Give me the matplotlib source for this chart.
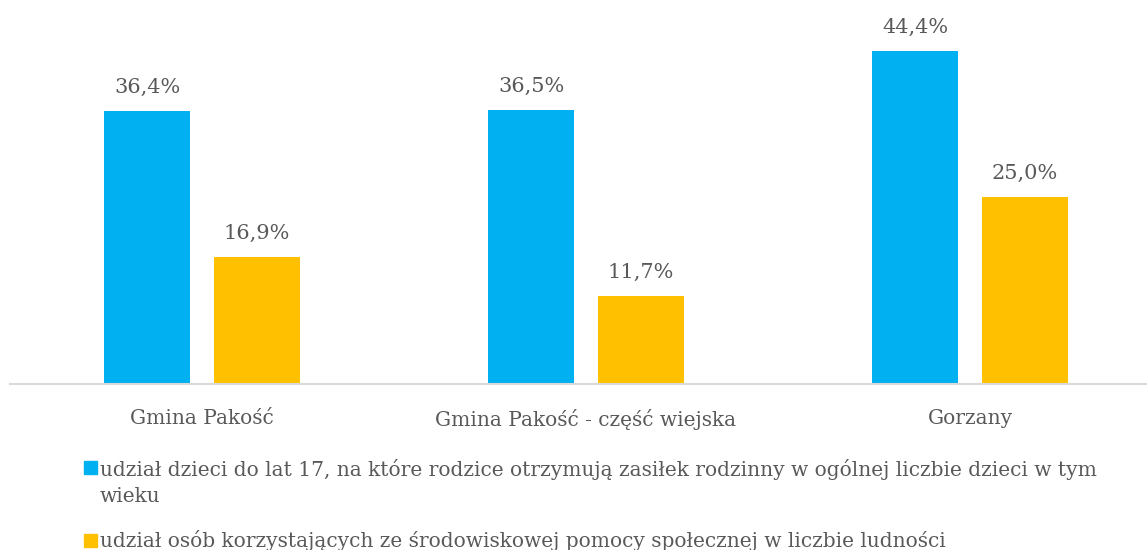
import matplotlib
matplotlib.use("Agg")
import matplotlib.pyplot as plt
import numpy as np
from matplotlib.patches import Rectangle

categories = ["Gmina Pakość", "Gmina Pakość - część wiejska", "Gorzany"]
children_share = [36.4, 36.5, 44.4]
assistance_share = [16.9, 11.7, 25.0]
series_labels = [
    "udział dzieci do lat 17, na które rodzice otrzymują zasiłek rodzinny w ogólnej liczbie dzieci w tym\nwieku",
    "udział osób korzystających ze środowiskowej pomocy społecznej w liczbie ludności",
]
colors = ["#00B0F0", "#FFC000"]
text_color = "#595959"

W, H = 1147, 550
plt.rcParams["font.family"] = "DejaVu Serif"
fig = plt.figure(figsize=(W / 100, H / 100), dpi=100)

# axes: baseline at y=384 px, one category = 384 px wide
ax = fig.add_axes([10 / W, (H - 384) / H, 1137 / W, 375 / H])
ax.set_xlim(-0.5, -0.5 + 1137 / 384)
ax.set_ylim(0, 50)

x = np.arange(len(categories))
bw = 86 / 384
off = (86 + 24) / 2 / 384
for vals, col, dx in [(children_share, colors[0], -off), (assistance_share, colors[1], off)]:
    bars = ax.bar(x + dx, vals, width=bw, color=col)
    for b, v in zip(bars, vals):
        ax.annotate(f"{v:.1f}%".replace(".", ","), (b.get_x() + b.get_width() / 2, v),
                    xytext=(0, 10), textcoords="offset points", ha="center", va="bottom",
                    fontsize=15, color=text_color)

for s in ax.spines.values():
    s.set_visible(False)
ax.axhline(0, color="#D9D9D9", lw=1.5, clip_on=False)
ax.set_yticks([])
ax.set_xticks(x)
ax.set_xticklabels(categories, fontsize=14.5, color=text_color)
ax.tick_params(axis="x", length=0, pad=18)

# legend drawn by hand: square + text (y = baseline of the last text line)
sq_y = [467, 540]
last_base = [502, 547]
for lab, col, sy, by in zip(series_labels, colors, sq_y, last_base):
    fig.patches.append(Rectangle((84 / W, (H - sy - 6.5) / H), 13 / W, 13 / H,
                                 transform=fig.transFigure, color=col, figure=fig))
    fig.text(100 / W, (H - by) / H, lab, fontsize=14.5, color=text_color,
             ha="left", va="baseline", linespacing=1.44)

fig.savefig("out.png", dpi=100)
